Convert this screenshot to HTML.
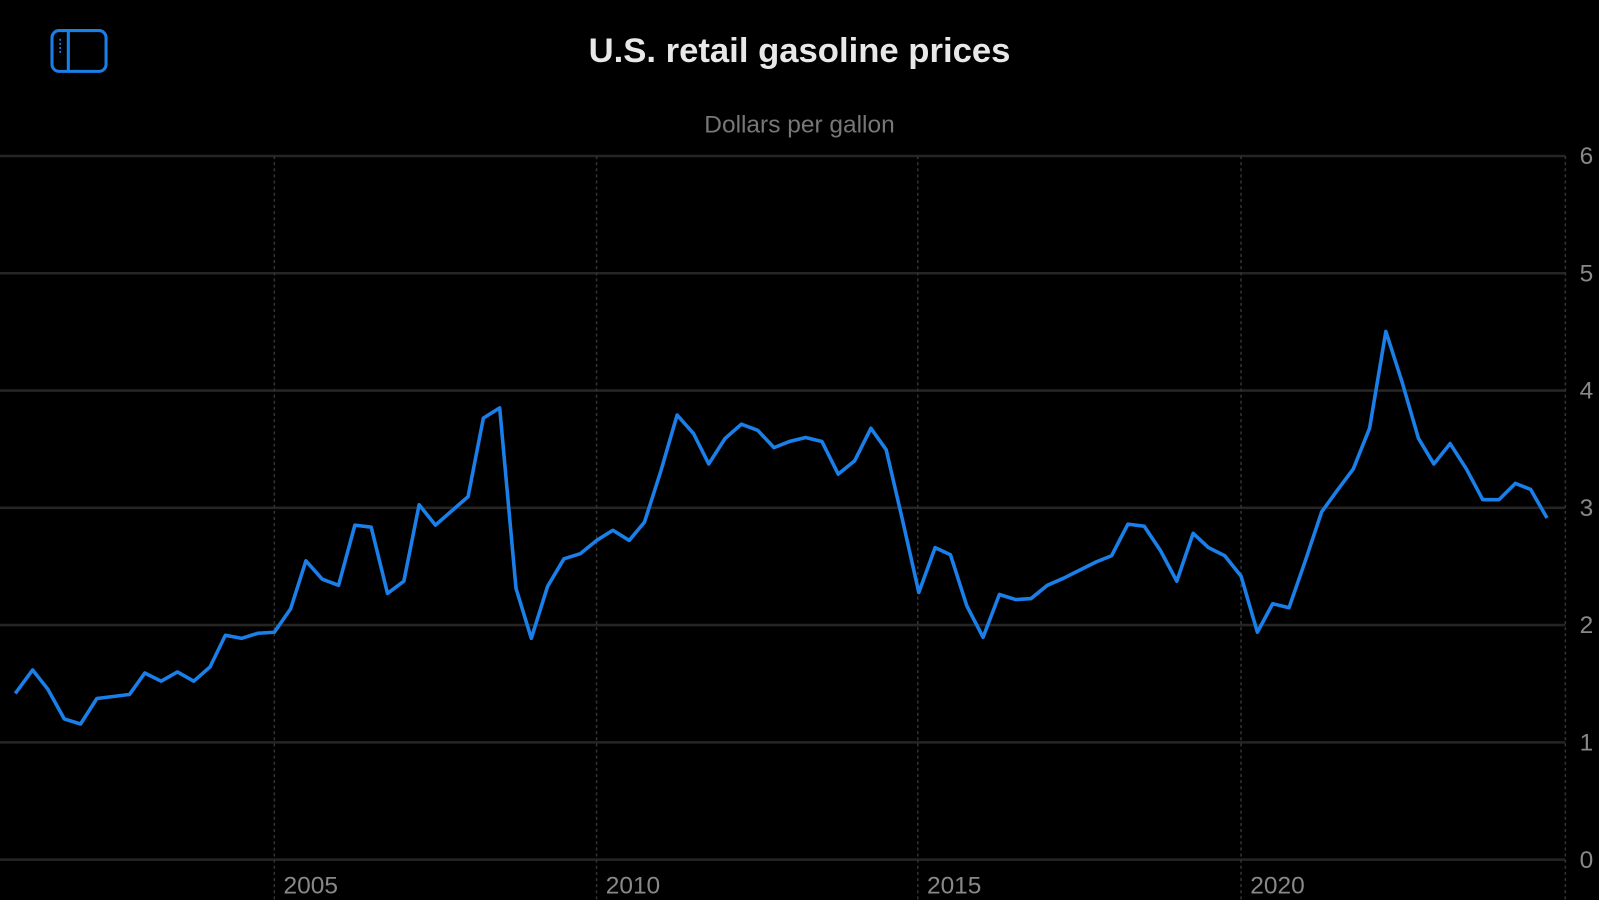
<!DOCTYPE html>
<html><head><meta charset="utf-8"><style>
html,body{margin:0;padding:0;background:#000;width:1599px;height:900px;overflow:hidden}
svg{display:block}
text{font-family:"Liberation Sans",sans-serif}
</style></head><body>
<svg width="1599" height="900" viewBox="0 0 1568 882.6" preserveAspectRatio="none" xmlns="http://www.w3.org/2000/svg">
<rect width="1568" height="883" fill="#000"/>
<rect x="51" y="30" width="53" height="40" rx="7" fill="none" stroke="#1a7fe8" stroke-width="3"/>
<line x1="67" y1="31" x2="67" y2="69" stroke="#1a7fe8" stroke-width="3"/>
<line x1="59" y1="38" x2="59" y2="52" stroke="#1a7fe8" stroke-width="1.5" stroke-dasharray="2,2"/>
<text x="784" y="61" text-anchor="middle" fill="#e8e8e8" font-size="34" font-weight="bold">U.S. retail gasoline prices</text>
<text x="784" y="130" text-anchor="middle" fill="#777" font-size="24">Dollars per gallon</text>
<g stroke="#252525" stroke-width="2.5">
<line x1="0" y1="153" x2="1535" y2="153"/><line x1="0" y1="268" x2="1535" y2="268"/>
<line x1="0" y1="383" x2="1535" y2="383"/><line x1="0" y1="498" x2="1535" y2="498"/>
<line x1="0" y1="613" x2="1535" y2="613"/><line x1="0" y1="728" x2="1535" y2="728"/>
<line x1="0" y1="843" x2="1535" y2="843"/>
</g>
<g stroke="#333" stroke-width="1.5" stroke-dasharray="3,3">
<line x1="269" y1="153" x2="269" y2="883"/><line x1="585" y1="153" x2="585" y2="883"/>
<line x1="900" y1="153" x2="900" y2="883"/><line x1="1217" y1="153" x2="1217" y2="883"/>
<line x1="1535" y1="153" x2="1535" y2="883"/>
</g>
<g fill="#888" font-size="24">
<text x="1549" y="161">6</text><text x="1549" y="276">5</text><text x="1549" y="391">4</text>
<text x="1549" y="506">3</text><text x="1549" y="621">2</text><text x="1549" y="736">1</text>
<text x="1549" y="851">0</text>
<text x="278" y="876">2005</text><text x="594" y="876">2010</text>
<text x="909" y="876">2015</text><text x="1226" y="876">2020</text>
</g>
<polyline fill="none" stroke="#1a7fe8" stroke-width="3.5" stroke-linejoin="round" points="15,680 32,657 47,676 63,705 79,710 95,685 111,683 127,681 142,660 158,668 174,659 190,668 206,654 221,623 237,626 253,621 269,620 285,597 300,550 316,568 332,574 348,515 364,517 380,582 396,570 411,495 427,515 443,501 459,487 474,410 490,400 506,577 521,626 537,575 553,548 569,543 585,530 601,520 617,530 632,512 648,462 664,407 680,425 695,455 711,430 727,416 743,422 759,439 774,433 790,429 806,433 822,465 838,452 854,420 869,441 885,510 901,581 917,537 932,544 948,594 964,625 980,583 996,588 1011,587 1027,574 1043,567 1059,559 1075,551 1090,545 1106,514 1122,516 1138,540 1154,570 1170,523 1185,537 1201,545 1217,565 1233,620 1248,592 1264,596 1280,550 1296,502 1312,480 1327,460 1343,420 1359,325 1375,375 1391,430 1406,455 1422,435 1438,460 1454,490 1470,490 1486,474 1501,480 1517,508"/>
</svg>
</body></html>
